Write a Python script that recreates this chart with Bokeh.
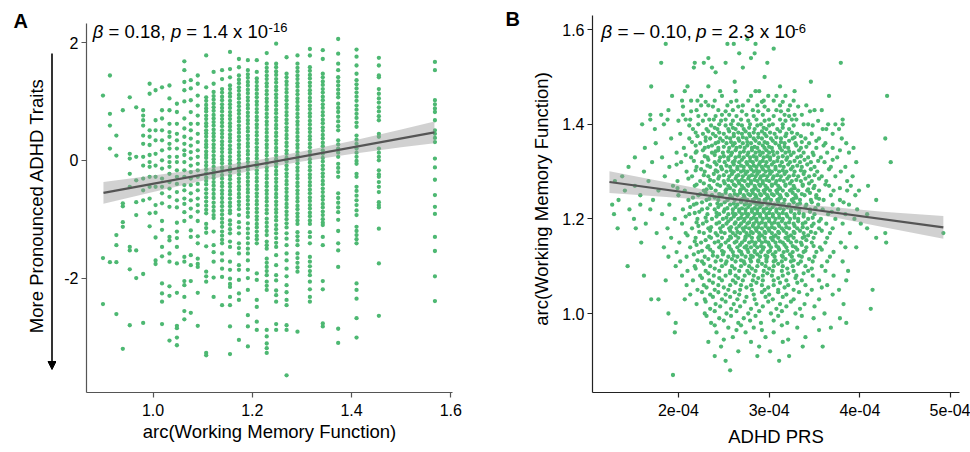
import math
from bokeh.plotting import figure
from bokeh.layouts import row
from bokeh.models import Range1d, FixedTicker, PrintfTickFormatter, Label, Arrow, NormalHead
from bokeh.embed import file_html
from bokeh.resources import INLINE

FONT = "Liberation Sans"
GREEN = "#4DB872"

# ---------------- Panel A data: ADHD traits by working-memory level ----------------
wm_levels = [0.899, 0.913, 0.926, 0.939, 0.953, 0.966, 0.980, 0.993, 1.005, 1.018,
             1.033, 1.048, 1.063, 1.076, 1.090, 1.107, 1.122, 1.139, 1.155, 1.173,
             1.191, 1.209, 1.229, 1.248, 1.269, 1.291, 1.316, 1.342, 1.373, 1.410,
             1.455, 1.568]

adhd_by_level = [
    [1.10, -1.66, -2.44],
    [1.44, 0.79, 0.59, 0.20, -1.73],
    [0.42, 0.08, -1.27, -1.44, -1.73, -2.61],
    [0.85, -0.73, -0.78, -1.05, -1.13, -3.20],
    [1.07, 0.11, 0.03, -0.23, -0.45, -1.47, -1.53, -1.85, -2.80],
    [0.90, 0.06, -0.34, -0.71, -0.93, -1.53, -2.00],
    [0.85, 0.76, 0.68, 0.59, 0.42, 0.28, 0.06, -0.09, -0.31, -0.51, -0.68, -1.93, -2.76],
    [1.30, 1.13, 0.51, 0.40, 0.26, 0.09, -0.03, -0.11, -0.28, -0.45, -0.65, -0.90, -1.12],
    [1.19, 0.68, 0.51, 0.34, 0.11, -0.09, -0.28, -0.45, -0.76, -0.89, -1.31, -1.70, -1.76],
    [1.24, 0.85, 0.71, 0.51, 0.34, 0.17, 0.00, -0.14, -0.31, -0.45, -0.56, -0.73, -1.03, -1.18,
     -1.47, -1.63, -2.09, -2.26, -2.40, -2.78],
    [1.27, 1.05, 0.85, 0.62, 0.48, 0.40, 0.28, 0.20, 0.06, -0.03, -0.11, -0.23, -0.37, -0.48,
     -0.62, -0.79, -1.30, -1.36, -1.58, -1.72, -2.14, -2.30, -3.06],
    [0.96, 0.82, 0.62, 0.45, 0.34, 0.20, 0.06, -0.03, -0.17, -0.28, -0.40, -0.54, -0.68, -0.80,
     -1.06, -1.21, -1.32, -1.47, -1.75, -2.25, -2.81, -2.85, -3.01, -3.14],
    [1.68, 1.53, 1.33, 1.19, 1.00, 0.71, 0.54, 0.40, 0.28, 0.17, 0.09, -0.03, -0.17, -0.28,
     -0.42, -0.51, -0.65, -0.74, -0.88, -1.03, -1.64, -1.72, -2.05, -2.12, -2.32, -2.56, -2.70],
    [1.36, 1.22, 1.02, 0.82, 0.62, 0.51, 0.37, 0.25, 0.14, 0.03, -0.09, -0.20, -0.31, -0.42,
     -0.56, -0.68, -0.82, -0.96, -1.19, -1.30, -1.61, -1.78, -2.05, -2.59],
    [1.44, 1.30, 1.10, 0.93, 0.76, 0.62, 0.45, 0.31, 0.17, 0.06, -0.06, -0.17, -0.28, -0.40,
     -0.51, -0.65, -0.76, -0.87, -1.03, -1.29, -1.41, -1.67, -1.76, -1.81, -2.25, -2.81],
    [1.78, 1.24, 1.07, 1.01, 0.94, 0.88, 0.83, 0.76, 0.70, 0.63, 0.58, 0.51, 0.46, 0.40, 0.33,
     0.27, 0.22, 0.15, 0.09, 0.04, -0.03, -0.09, -0.15, -0.22, -0.29, -0.35, -0.41, -0.49,
     -0.56, -0.63, -0.70, -0.77, -0.84, -0.90, -1.08, -1.15, -1.23, -1.46, -1.89, -1.97,
     -2.06, -3.27, -3.31],
    [1.50, 1.30, 1.16, 1.09, 1.03, 0.96, 0.90, 0.84, 0.77, 0.71, 0.65, 0.59, 0.52, 0.46, 0.40,
     0.34, 0.27, 0.21, 0.15, 0.08, 0.02, -0.04, -0.11, -0.17, -0.24, -0.30, -0.37, -0.43,
     -0.50, -0.57, -0.64, -0.72, -0.79, -0.86, -0.93, -0.98, -1.21, -1.44, -1.56, -1.72,
     -1.99, -2.32],
    [1.53, 1.38, 1.21, 1.15, 1.08, 1.02, 0.95, 0.89, 0.83, 0.76, 0.70, 0.64, 0.58, 0.51, 0.45,
     0.39, 0.32, 0.26, 0.20, 0.14, 0.07, 0.01, -0.05, -0.12, -0.18, -0.25, -0.31, -0.38,
     -0.44, -0.51, -0.57, -0.64, -0.71, -0.78, -0.85, -0.92, -0.99, -1.06, -1.13, -1.21,
     -1.28, -1.35, -1.41, -1.58, -1.70, -1.84, -1.98, -2.46],
    [1.84, 1.55, 1.41, 1.27, 1.21, 1.14, 1.08, 1.01, 0.95, 0.89, 0.82, 0.76, 0.70, 0.63, 0.57,
     0.51, 0.44, 0.38, 0.32, 0.25, 0.19, 0.13, 0.06, 0.00, -0.06, -0.13, -0.19, -0.26, -0.32,
     -0.39, -0.45, -0.52, -0.58, -0.65, -0.72, -0.78, -0.85, -0.90, -1.02, -1.09, -1.17,
     -1.24, -1.38, -1.47, -1.72, -1.86, -2.01, -2.10, -2.15, -2.32, -2.46, -2.82, -3.29],
    [1.72, 1.58, 1.44, 1.37, 1.31, 1.24, 1.18, 1.11, 1.05, 0.98, 0.92, 0.85, 0.79, 0.72, 0.66,
     0.59, 0.53, 0.47, 0.40, 0.34, 0.27, 0.21, 0.14, 0.08, 0.02, -0.05, -0.11, -0.18, -0.24,
     -0.31, -0.37, -0.44, -0.50, -0.57, -0.63, -0.70, -0.76, -0.83, -0.93, -1.05, -1.14,
     -1.24, -1.41, -1.49, -1.58, -1.78, -1.86, -2.03, -2.26, -2.37, -3.05],
    [1.70, 1.53, 1.46, 1.40, 1.33, 1.27, 1.20, 1.14, 1.07, 1.01, 0.94, 0.88, 0.81, 0.75, 0.68,
     0.62, 0.55, 0.49, 0.42, 0.36, 0.29, 0.23, 0.16, 0.10, 0.03, -0.03, -0.10, -0.16, -0.23,
     -0.29, -0.36, -0.42, -0.49, -0.55, -0.62, -0.68, -0.75, -0.82, -0.89, -0.96, -1.07,
     -1.16, -1.24, -1.32, -1.41, -1.50, -1.58, -1.70, -1.86, -2.00, -2.20, -2.63, -2.82, -3.16],
    [1.70, 1.50, 1.39, 1.33, 1.26, 1.20, 1.13, 1.07, 1.00, 0.94, 0.87, 0.81, 0.74, 0.68, 0.61,
     0.55, 0.48, 0.42, 0.35, 0.29, 0.22, 0.16, 0.09, 0.03, -0.04, -0.10, -0.17, -0.23, -0.30,
     -0.36, -0.43, -0.49, -0.56, -0.62, -0.69, -0.75, -0.82, -0.88, -0.95, -1.01, -1.08,
     -1.14, -1.21, -1.28, -1.34, -1.41, -1.92, -2.03, -2.37, -2.49, -2.74, -2.88],
    [1.82, 1.64, 1.57, 1.51, 1.44, 1.38, 1.31, 1.25, 1.18, 1.12, 1.05, 0.99, 0.92, 0.86, 0.79,
     0.73, 0.66, 0.60, 0.53, 0.47, 0.40, 0.34, 0.27, 0.21, 0.14, 0.08, 0.01, -0.05, -0.12,
     -0.18, -0.25, -0.31, -0.38, -0.44, -0.51, -0.57, -0.64, -0.70, -0.77, -0.84, -0.90,
     -0.99, -1.06, -1.13, -1.20, -1.27, -1.38, -1.44, -1.50, -1.67, -1.74, -1.81, -1.88,
     -1.95, -2.06, -2.13, -2.20, -2.88, -2.99, -3.11, -3.19, -3.27],
    [1.98, 1.64, 1.58, 1.51, 1.45, 1.38, 1.32, 1.25, 1.19, 1.12, 1.06, 0.99, 0.93, 0.86, 0.80,
     0.73, 0.67, 0.60, 0.54, 0.47, 0.41, 0.34, 0.28, 0.21, 0.15, 0.08, 0.02, -0.05, -0.11,
     -0.18, -0.24, -0.31, -0.37, -0.44, -0.50, -0.57, -0.63, -0.70, -0.76, -0.83, -0.89,
     -0.96, -1.02, -1.10, -1.17, -1.24, -1.32, -1.40, -1.47, -1.61, -1.78, -1.95, -2.04,
     -2.21, -2.29, -2.40, -2.78, -2.88],
    [1.75, 1.47, 1.41, 1.34, 1.28, 1.21, 1.15, 1.08, 1.02, 0.95, 0.89, 0.82, 0.76, 0.69, 0.63,
     0.56, 0.50, 0.43, 0.37, 0.30, 0.24, 0.17, 0.11, 0.04, -0.02, -0.09, -0.15, -0.22, -0.28,
     -0.35, -0.41, -0.48, -0.54, -0.61, -0.67, -0.74, -0.80, -0.87, -0.93, -1.00, -1.07,
     -1.14, -1.24, -1.33, -1.44, -1.58, -1.70, -1.84, -1.97, -2.12, -2.24, -2.37, -2.46,
     -2.80, -2.88, -3.65],
    [1.78, 1.64, 1.57, 1.51, 1.44, 1.38, 1.31, 1.25, 1.18, 1.12, 1.05, 0.99, 0.92, 0.86, 0.79,
     0.73, 0.66, 0.60, 0.53, 0.47, 0.40, 0.34, 0.27, 0.21, 0.14, 0.08, 0.01, -0.05, -0.12,
     -0.18, -0.25, -0.31, -0.38, -0.44, -0.51, -0.57, -0.64, -0.70, -0.77, -0.83, -0.90,
     -0.96, -1.02, -1.08, -1.22, -1.29, -1.36, -1.44, -1.58, -1.66, -1.74, -1.82, -1.89, -2.91],
    [1.89, 1.78, 1.58, 1.52, 1.45, 1.39, 1.32, 1.26, 1.19, 1.13, 1.06, 1.00, 0.93, 0.87, 0.80,
     0.74, 0.67, 0.61, 0.54, 0.48, 0.41, 0.35, 0.28, 0.22, 0.15, 0.09, 0.02, -0.04, -0.11,
     -0.17, -0.24, -0.30, -0.37, -0.43, -0.50, -0.56, -0.63, -0.69, -0.76, -0.82, -0.89,
     -0.95, -1.02, -1.08, -1.22, -1.30, -1.41, -1.64, -1.72, -1.80, -1.88, -1.95, -2.06,
     -2.19, -2.32, -2.40],
    [1.87, 1.72, 1.47, 1.41, 1.34, 1.28, 1.21, 1.15, 1.08, 1.02, 0.95, 0.89, 0.82, 0.76, 0.69,
     0.63, 0.56, 0.50, 0.43, 0.37, 0.30, 0.24, 0.17, 0.11, 0.04, -0.02, -0.09, -0.15, -0.22,
     -0.28, -0.35, -0.41, -0.48, -0.54, -0.61, -0.67, -0.74, -0.80, -0.87, -0.93, -1.00,
     -1.06, -1.10, -1.30, -1.44, -2.05, -2.19, -2.77, -2.82],
    [2.06, 1.81, 1.64, 1.53, 1.41, 1.34, 1.27, 1.20, 1.13, 1.07, 0.96, 0.89, 0.82, 0.74, 0.66,
     0.58, 0.51, 0.34, 0.27, 0.20, 0.13, 0.06, -0.06, -0.13, -0.20, -0.28, -0.56, -0.64,
     -0.72, -0.80, -0.88, -1.01, -1.20, -1.41, -1.53, -1.81, -2.86, -3.10],
    [1.88, 1.76, 1.61, 1.47, 1.36, 1.29, 1.22, 1.15, 1.08, 1.01, 0.93, 0.86, 0.79, 0.72, 0.64,
     0.57, 0.42, 0.35, 0.28, 0.20, 0.13, 0.06, -0.01, -0.06, -0.23, -0.28, -0.45, -0.52,
     -0.60, -0.68, -0.76, -0.85, -0.93, -1.13, -1.20, -1.27, -1.34, -1.41, -2.09, -2.20,
     -2.35, -2.68, -3.01],
    [1.74, 1.61, 1.44, 1.41, 1.21, 1.13, 1.05, 0.98, 0.90, 0.83, 0.75, 0.68, 0.45, 0.40, 0.20,
     0.13, 0.06, 0.00, -0.17, -0.24, -0.28, -0.37, -0.45, -0.54, -0.71, -0.76, -0.80, -1.16,
     -1.75, -2.64],
    [1.67, 1.53, 1.02, 0.95, 0.88, 0.82, 0.68, 0.51, 0.45, 0.38, 0.31, 0.03, -0.12, -0.33,
     -0.59, -0.79, -0.91, -1.30, -1.54, -1.97, -2.39],
]

fitA_x = [0.900, 1.567]
fitA_y = [-0.553, 0.475]
bandA_x = [0.90, 1.00, 1.10, 1.20, 1.30, 1.40, 1.50, 1.567]
bandA_lo = [-0.738, -0.539, -0.345, -0.171, -0.022, 0.108, 0.222, 0.290]
bandA_hi = [-0.368, -0.259, -0.145, -0.011, 0.148, 0.328, 0.522, 0.660]
xticksA = [1.0, 1.2, 1.4, 1.6]
yticksA = [-2, 0, 2]

# ---------------- Panel B data: working memory (rows) vs ADHD PRS (units of 1e-4) ----------------
wm_rows = [1.58, 1.57, 1.56, 1.55, 1.54, 1.53, 1.52, 1.51, 1.50, 1.49, 1.48, 1.47, 1.46, 1.45,
           1.44, 1.43, 1.42, 1.41, 1.40, 1.39, 1.385, 1.38, 1.375, 1.37, 1.365, 1.36, 1.355,
           1.35, 1.345, 1.34, 1.335, 1.33, 1.325, 1.32, 1.315, 1.31, 1.305, 1.30, 1.295, 1.29,
           1.285, 1.28, 1.275, 1.27, 1.265, 1.26, 1.255, 1.25, 1.245, 1.24, 1.235, 1.23, 1.225,
           1.22, 1.215, 1.21, 1.205, 1.20, 1.195, 1.19, 1.185, 1.18, 1.175, 1.17, 1.165, 1.16,
           1.155, 1.15, 1.145, 1.14, 1.135, 1.13, 1.125, 1.12, 1.115, 1.11, 1.10, 1.09, 1.08,
           1.07, 1.06, 1.05, 1.04, 1.03, 1.02, 1.01, 1.00, 0.99, 0.98, 0.97, 0.96, 0.95, 0.94,
           0.93, 0.92, 0.91, 0.90, 0.88, 0.87]

prs_rows = [
    [2.76],
    [1.86, 2.54, 2.61, 2.85],
    [3.05],
    [2.67, 2.84],
    [2.33, 2.80],
    [1.81, 2.18, 2.28, 2.52, 2.98, 3.79],
    [2.17, 2.37, 2.71],
    [2.41],
    [2.95],
    [2.62, 3.46],
    [1.70, 2.10, 2.33, 3.12],
    [2.07, 2.46, 2.63, 2.85, 2.89, 3.28],
    [1.93, 2.25, 2.48, 2.80, 2.99, 3.08, 3.18, 3.66, 4.30],
    [2.04, 2.14, 2.21, 2.40, 2.64, 2.77, 2.94, 3.05, 3.27],
    [2.25, 2.33, 2.54, 2.71, 2.87, 3.12, 3.23, 3.41],
    [1.89, 2.20, 2.44, 2.60, 2.82, 2.99, 3.08, 3.21, 3.50, 3.58],
    [1.69, 1.81, 2.05, 2.30, 2.48, 2.56, 2.75, 2.93, 3.17, 3.28, 3.36],
    [1.69, 1.88, 2.08, 2.13, 2.34, 2.39, 2.52, 2.69, 2.86, 3.00, 3.12, 3.25, 3.30, 3.81],
    [1.60, 1.84, 2.22, 2.45, 2.58, 2.66, 2.79, 2.91, 3.04, 3.15, 3.38, 3.43, 3.65, 3.73, 3.81],
    [1.74, 2.16, 2.31, 2.43, 2.55, 2.63, 2.72, 2.84, 2.97, 3.09, 3.22, 3.59, 3.63, 3.77],
    [2.33, 2.56, 2.74, 2.92, 3.12],
    [2.02, 2.27, 2.38, 2.50, 2.61, 2.70, 2.78, 2.88, 2.95, 3.06, 3.19, 3.31, 3.47, 3.70],
    [2.21, 2.41, 2.61, 2.79, 2.97, 3.18, 3.35],
    [1.92, 2.12, 2.35, 2.46, 2.57, 2.66, 2.75, 2.83, 2.92, 3.02, 3.13, 3.26, 3.40, 3.55, 3.80, 4.28],
    [2.30, 2.49, 2.67, 2.85, 3.04, 3.22, 3.52],
    [1.75, 2.24, 2.41, 2.53, 2.62, 2.71, 2.80, 2.89, 2.98, 3.07, 3.17, 3.29, 3.44, 3.62, 3.85],
    [2.19, 2.37, 2.60, 2.76, 2.93, 3.11, 3.30, 3.60],
    [1.63, 2.06, 2.29, 2.44, 2.56, 2.64, 2.73, 2.81, 2.87, 2.95, 3.03, 3.12, 3.21, 3.35, 3.52,
     3.70, 3.93],
    [2.27, 2.44, 2.63, 2.81, 2.97, 3.14, 3.33, 3.78],
    [1.98, 2.19, 2.37, 2.49, 2.59, 2.68, 2.77, 2.85, 2.93, 3.00, 3.09, 3.18, 3.27, 3.38, 3.48,
     3.64, 3.88],
    [2.08, 2.40, 2.58, 2.76, 2.90, 3.05, 3.24, 3.49],
    [1.52, 1.82, 2.14, 2.32, 2.46, 2.55, 2.63, 2.72, 2.79, 2.86, 2.94, 3.01, 3.10, 3.20, 3.31,
     3.43, 3.57, 3.75],
    [2.33, 2.55, 2.70, 2.86, 3.01, 3.19, 3.39, 3.70],
    [1.71, 2.03, 2.26, 2.40, 2.51, 2.60, 2.67, 2.75, 2.82, 2.90, 2.97, 3.05, 3.14, 3.23, 3.34,
     3.46, 3.61, 3.96, 4.34],
    [1.98, 2.42, 2.61, 2.76, 2.89, 3.03, 3.21, 3.42],
    [1.45, 1.90, 2.20, 2.35, 2.47, 2.57, 2.65, 2.72, 2.79, 2.86, 2.92, 2.99, 3.07, 3.16, 3.26,
     3.36, 3.50, 3.68, 3.84],
    [2.25, 2.48, 2.65, 2.80, 2.93, 3.07, 3.24, 3.46, 3.66],
    [1.62, 2.09, 2.29, 2.43, 2.53, 2.61, 2.69, 2.76, 2.83, 2.89, 2.96, 3.03, 3.11, 3.19, 3.28,
     3.39, 3.53, 3.79],
    [2.39, 2.59, 2.74, 2.87, 3.01, 3.17, 3.38],
    [1.38, 1.85, 2.15, 2.33, 2.45, 2.56, 2.64, 2.71, 2.78, 2.85, 2.91, 2.98, 3.05, 3.13, 3.22,
     3.32, 3.44, 3.58, 3.73, 3.92],
    [2.11, 2.44, 2.63, 2.77, 2.90, 3.04, 3.20, 3.40, 3.55],
    [1.30, 1.67, 1.99, 2.24, 2.39, 2.50, 2.59, 2.66, 2.73, 2.80, 2.87, 2.93, 3.00, 3.08, 3.16,
     3.25, 3.35, 3.47, 3.63, 3.86],
    [2.28, 2.51, 2.67, 2.80, 2.93, 3.07, 3.23, 3.44],
    [1.52, 1.94, 2.18, 2.34, 2.46, 2.55, 2.63, 2.70, 2.77, 2.84, 2.90, 2.96, 3.03, 3.10, 3.18,
     3.27, 3.37, 3.50, 3.66, 3.90, 4.09],
    [1.99, 2.36, 2.57, 2.72, 2.85, 2.98, 3.12, 3.28, 3.49, 3.78],
    [1.41, 1.78, 2.07, 2.28, 2.41, 2.52, 2.61, 2.68, 2.75, 2.81, 2.88, 2.94, 3.01, 3.08, 3.15,
     3.23, 3.32, 3.42, 3.55, 3.71, 3.86, 3.99],
    [2.30, 2.52, 2.68, 2.82, 2.95, 3.09, 3.26, 3.45],
    [1.58, 2.00, 2.22, 2.37, 2.48, 2.57, 2.65, 2.72, 2.79, 2.85, 2.91, 2.98, 3.05, 3.12, 3.20,
     3.29, 3.39, 3.52, 3.68, 3.95],
    [2.16, 2.40, 2.59, 2.73, 2.86, 2.99, 3.13, 3.30, 3.52],
    [1.34, 1.72, 2.11, 2.31, 2.44, 2.54, 2.62, 2.69, 2.76, 2.82, 2.89, 2.95, 3.02, 3.09, 3.17,
     3.25, 3.34, 3.46, 3.60, 3.78, 4.18],
    [2.26, 2.51, 2.69, 2.83, 2.96, 3.10, 3.27, 3.47, 3.82],
    [1.27, 1.58, 1.90, 2.17, 2.35, 2.47, 2.57, 2.65, 2.73, 2.79, 2.86, 2.92, 2.99, 3.06, 3.14,
     3.22, 3.31, 3.41, 3.54, 3.70, 3.88],
    [2.13, 2.44, 2.63, 2.77, 2.90, 3.04, 3.20, 3.40],
    [1.46, 1.69, 2.05, 2.26, 2.40, 2.51, 2.60, 2.67, 2.74, 2.81, 2.87, 2.94, 3.01, 3.08, 3.16,
     3.24, 3.33, 3.45, 3.59, 3.76, 3.97],
    [2.23, 2.50, 2.67, 2.81, 2.94, 3.08, 3.24, 3.45, 3.69],
    [1.29, 1.82, 2.12, 2.32, 2.45, 2.55, 2.63, 2.70, 2.77, 2.84, 2.90, 2.97, 3.04, 3.11, 3.19,
     3.28, 3.38, 3.50, 3.65, 3.84, 4.08],
    [2.08, 2.42, 2.61, 2.76, 2.90, 3.04, 3.20, 3.38],
    [1.51, 1.96, 2.21, 2.37, 2.49, 2.58, 2.66, 2.73, 2.80, 2.86, 2.93, 3.00, 3.07, 3.15, 3.23,
     3.32, 3.43, 3.57, 3.73, 3.94],
    [2.31, 2.55, 2.72, 2.86, 3.00, 3.14, 3.32, 3.55],
    [1.64, 2.04, 2.27, 2.42, 2.53, 2.62, 2.69, 2.76, 2.83, 2.89, 2.96, 3.03, 3.10, 3.18, 3.27,
     3.37, 3.49, 3.63, 3.81, 4.01],
    [2.22, 2.49, 2.67, 2.82, 2.96, 3.11, 3.28, 3.47],
    [1.33, 1.53, 1.88, 2.15, 2.33, 2.46, 2.56, 2.64, 2.71, 2.78, 2.85, 2.92, 2.99, 3.06, 3.14,
     3.22, 3.31, 3.42, 3.55, 3.70, 4.08],
    [2.35, 2.57, 2.72, 2.86, 3.00, 3.16, 3.34, 3.58],
    [1.76, 2.08, 2.28, 2.41, 2.51, 2.60, 2.68, 2.75, 2.82, 2.89, 2.96, 3.03, 3.11, 3.19, 3.28,
     3.38, 3.51, 3.67, 3.89, 4.28, 4.92],
    [2.10, 2.43, 2.63, 2.78, 2.92, 3.07, 3.24, 3.43],
    [1.92, 2.19, 2.36, 2.48, 2.58, 2.66, 2.74, 2.81, 2.88, 2.95, 3.02, 3.10, 3.18, 3.27, 3.37,
     3.49, 3.64, 4.18],
    [2.30, 2.55, 2.73, 2.89, 3.04, 3.21, 3.41],
    [1.59, 2.01, 2.25, 2.40, 2.52, 2.62, 2.70, 2.78, 2.85, 2.92, 2.99, 3.07, 3.15, 3.24, 3.35,
     3.47, 3.62, 3.79, 4.29],
    [2.20, 2.47, 2.68, 2.84, 3.00, 3.17, 3.36],
    [1.84, 2.13, 2.32, 2.45, 2.56, 2.65, 2.73, 2.80, 2.87, 2.94, 3.02, 3.10, 3.19, 3.29, 3.41,
     3.56, 3.84, 3.96],
    [2.35, 2.58, 2.76, 2.93, 3.11, 3.31, 3.58],
    [1.98, 2.22, 2.38, 2.50, 2.60, 2.69, 2.77, 2.84, 2.91, 2.99, 3.07, 3.16, 3.26, 3.38, 3.52, 3.71],
    [2.17, 2.49, 2.70, 2.87, 3.04, 3.23],
    [1.89, 2.09, 2.29, 2.43, 2.55, 2.65, 2.74, 2.82, 2.90, 2.98, 3.06, 3.15, 3.25, 3.36, 3.50, 3.67],
    [2.33, 2.59, 2.79, 2.97, 3.18, 3.44],
    [2.02, 2.26, 2.41, 2.53, 2.63, 2.72, 2.80, 2.88, 2.97, 3.05, 3.14, 3.24, 3.35, 3.48, 3.64, 3.81],
    [1.44, 1.97, 2.18, 2.35, 2.48, 2.59, 2.69, 2.78, 2.87, 2.96, 3.05, 3.15, 3.26, 3.40, 3.58],
    [2.10, 2.30, 2.45, 2.57, 2.67, 2.76, 2.85, 2.94, 3.04, 3.14, 3.27, 3.43, 3.62, 3.87],
    [1.62, 2.04, 2.24, 2.39, 2.52, 2.63, 2.73, 2.83, 2.93, 3.03, 3.15, 3.30, 3.48, 3.71],
    [1.86, 2.16, 2.34, 2.48, 2.60, 2.71, 2.82, 2.93, 3.05, 3.19, 3.36, 3.55, 3.85],
    [2.09, 2.28, 2.44, 2.57, 2.69, 2.80, 2.92, 3.05, 3.21, 3.40, 3.64],
    [2.21, 2.40, 2.55, 2.68, 2.81, 2.95, 3.10, 3.27, 3.47, 3.77, 4.14],
    [2.13, 2.35, 2.52, 2.67, 2.83, 3.00, 3.19, 3.42, 3.70],
    [1.70, 1.78, 2.07, 2.29, 2.48, 2.65, 2.84, 3.04, 3.27, 3.55],
    [2.20, 2.41, 2.61, 2.86, 3.12, 3.39, 3.82],
    [2.35, 2.58, 2.80, 3.08, 3.34, 4.12],
    [1.89, 2.29, 2.53, 2.77, 3.02, 3.29, 3.61],
    [2.45, 2.72, 3.49, 3.78],
    [1.97, 2.36, 2.66, 2.91, 3.20, 3.85],
    [2.55, 2.83, 3.31, 3.68],
    [1.96, 2.42, 2.74, 3.05],
    [2.60, 2.96, 3.40],
    [2.33, 2.80, 3.15],
    [2.47, 2.89, 3.37, 3.59],
    [2.66, 3.01],
    [2.40, 2.87, 3.22],
    [2.52, 3.11],
    [2.57],
    [1.94],
]

# further rows read between the ones above (dense core of the cloud)
wm_rows_core = [1.4475, 1.4375, 1.4275, 1.4175, 1.4075, 1.3975, 1.3925, 1.3825, 1.3725, 1.3625,
                1.3525, 1.3425, 1.3325, 1.3225, 1.3125, 1.3025, 1.2925, 1.2825, 1.2725, 1.2625,
                1.2525, 1.2425, 1.2325, 1.2225, 1.2125, 1.2025, 1.1925, 1.1825, 1.1725, 1.1625,
                1.1525, 1.1425, 1.1325, 1.1225, 1.1125, 1.105, 1.095, 1.085, 1.075, 1.065,
                1.055, 1.045, 1.035, 1.025, 1.015, 1.005, 0.995, 0.985, 0.975, 0.965, 0.945]
prs_rows_core = [
    [2.30, 2.58, 2.92, 3.15],
    [2.05, 2.38, 2.66, 2.95, 3.32],
    [2.14, 2.52, 2.70, 2.88, 3.13, 3.45],
    [2.22, 2.41, 2.64, 2.83, 3.05, 3.22],
    [2.00, 2.27, 2.47, 2.60, 2.77, 2.95, 3.18, 3.54],
    [2.12, 2.36, 2.52, 2.70, 2.87, 3.00, 3.27, 3.48],
    [2.40, 2.60, 2.78, 2.94, 3.15],
    [2.19, 2.45, 2.66, 2.83, 3.01, 3.25],
    [2.30, 2.53, 2.71, 2.88, 3.08, 3.28],
    [2.15, 2.44, 2.58, 2.76, 2.95, 3.13, 3.36],
    [2.33, 2.50, 2.68, 2.84, 3.00, 3.17, 3.41],
    [2.20, 2.41, 2.55, 2.72, 2.89, 3.04, 3.22],
    [2.29, 2.50, 2.67, 2.83, 2.98, 3.15, 3.35],
    [2.17, 2.45, 2.62, 2.79, 2.93, 3.09, 3.28, 3.54],
    [2.32, 2.53, 2.69, 2.83, 2.96, 3.12, 3.31],
    [2.19, 2.41, 2.58, 2.72, 2.86, 3.00, 3.15, 3.35],
    [2.28, 2.50, 2.66, 2.81, 2.94, 3.09, 3.27, 3.50],
    [2.35, 2.55, 2.70, 2.84, 2.97, 3.12, 3.30],
    [2.20, 2.43, 2.61, 2.76, 2.89, 3.03, 3.18, 3.37, 3.62],
    [2.31, 2.53, 2.69, 2.83, 2.96, 3.10, 3.25, 3.43],
    [2.24, 2.45, 2.62, 2.77, 2.90, 3.03, 3.19, 3.36],
    [2.34, 2.55, 2.71, 2.84, 2.97, 3.11, 3.27, 3.55],
    [2.20, 2.43, 2.61, 2.75, 2.88, 3.01, 3.16, 3.34],
    [2.32, 2.54, 2.70, 2.84, 2.97, 3.12, 3.29, 3.51],
    [2.18, 2.42, 2.60, 2.74, 2.87, 3.00, 3.15, 3.33],
    [2.30, 2.53, 2.69, 2.83, 2.97, 3.11, 3.28, 3.48],
    [2.20, 2.45, 2.63, 2.78, 2.92, 3.06, 3.22, 3.40],
    [2.36, 2.58, 2.74, 2.88, 3.03, 3.19, 3.37],
    [2.23, 2.47, 2.65, 2.80, 2.95, 3.10, 3.27, 3.46],
    [2.34, 2.57, 2.74, 2.89, 3.05, 3.21, 3.39],
    [2.18, 2.44, 2.64, 2.81, 2.96, 3.12, 3.30],
    [2.33, 2.56, 2.75, 2.91, 3.08, 3.26, 3.49],
    [2.26, 2.48, 2.67, 2.84, 3.01, 3.20, 3.40],
    [2.38, 2.61, 2.80, 2.96, 3.14, 3.33],
    [2.21, 2.47, 2.69, 2.88, 3.07, 3.27],
    [2.28, 2.52, 2.73, 2.92, 3.10, 3.32],
    [2.19, 2.40, 2.62, 2.81, 3.00, 3.20, 3.47],
    [2.33, 2.57, 2.78, 2.98, 3.21, 3.38],
    [2.26, 2.45, 2.66, 2.88, 3.10, 3.29],
    [2.38, 2.63, 2.86, 3.12, 3.31],
    [2.31, 2.50, 2.75, 2.99, 3.17, 3.58],
    [2.26, 2.44, 2.62, 2.92, 3.10, 3.33],
    [2.38, 2.57, 2.75, 2.96, 3.15],
    [2.30, 2.52, 2.73, 2.99, 3.24],
    [2.46, 2.68, 2.93, 3.19, 3.50],
    [2.40, 2.64, 2.89, 3.14],
    [2.31, 2.58, 2.85, 3.10, 3.36],
    [2.50, 2.79, 3.05],
    [2.40, 2.69, 3.14],
    [2.64, 2.92, 3.55],
    [2.50, 3.21],
]

fitB_x = [1.24, 4.92]
fitB_y = [1.278, 1.182]
bandB_x = [1.24, 1.75, 2.25, 2.75, 3.00, 3.25, 3.75, 4.25, 4.92]
bandB_lo = [1.255, 1.248, 1.241, 1.231, 1.225, 1.218, 1.202, 1.183, 1.158]
bandB_hi = [1.301, 1.282, 1.263, 1.246, 1.239, 1.233, 1.224, 1.215, 1.206]
xticksB = [2, 3, 4, 5]
xtick_labelsB = ["2e-04", "3e-04", "4e-04", "5e-04"]
yticksB = [1.0, 1.2, 1.4, 1.6]

assert len(wm_rows) == len(prs_rows)
assert len(wm_rows_core) == len(prs_rows_core)
assert len(wm_levels) == len(adhd_by_level)

# flatten
xa, ya = [], []
for lvl, vals in zip(wm_levels, adhd_by_level):
    xa += [lvl] * len(vals)
    ya += vals
xb, yb = [], []
for yv, xs in zip(wm_rows + wm_rows_core, prs_rows + prs_rows_core):
    xb += xs
    yb += [yv] * len(xs)

# all plot frames in the row share top=5px, bottom=392px
TOP, BOTTOM = 5, 60


def style(p, line_color):
    p.outline_line_color = None
    p.xgrid.visible = False
    p.ygrid.visible = False
    p.background_fill_color = "white"
    p.border_fill_color = "white"
    for ax in (p.xaxis[0], p.yaxis[0]):
        ax.axis_line_color = line_color
        ax.axis_line_width = 1.2
        ax.major_tick_line_color = line_color
        ax.major_tick_line_width = 1.2
        ax.major_tick_in = 0
        ax.major_tick_out = 5
        ax.minor_tick_line_color = None
        ax.major_label_text_font = FONT
        ax.major_label_text_font_size = "16px"
        ax.major_label_text_color = "black"
        ax.axis_label_text_font = FONT
        ax.axis_label_text_font_size = "18.5px"
        ax.axis_label_text_font_style = "normal"
        ax.axis_label_text_color = "black"
    p.xaxis.major_label_standoff = 6
    p.yaxis.major_label_standoff = 3


def add_text(p, x, y, text, size="18.5px", fstyle="normal", angle=0.0, align="left"):
    p.add_layout(Label(x=x, y=y, text=text, text_font=FONT, text_font_size=size,
                       text_font_style=fstyle, text_color="black", angle=angle,
                       text_baseline="middle", text_align=align))


def helper(width):
    # a plain drawing area whose coordinates are page pixels (y down)
    h = figure(width=width, height=452, x_range=Range1d(0, width), y_range=Range1d(392, 5),
               x_axis_type=None, y_axis_type=None, output_backend="svg", toolbar_location=None,
               min_border_left=0, min_border_right=0, min_border_top=TOP, min_border_bottom=BOTTOM)
    h.outline_line_color = None
    h.background_fill_color = "white"
    h.border_fill_color = "white"
    return h


# ---------------- left margin of panel A: tag, axis title, arrow ----------------
hA = helper(56)
add_text(hA, 13, 20, "A", size="20px", fstyle="bold")
add_text(hA, 35.5, 205, "More Pronounced ADHD Traits", size="18.5px", angle=math.pi / 2, align="center")
hA.add_layout(Arrow(end=NormalHead(size=8, fill_color="black", line_color="black"),
                    x_start=51.5, y_start=53, x_end=51.5, y_end=369,
                    line_width=1.6, line_color="black"))

# ---------------- Panel A figure ----------------
pA = figure(width=432, height=452, x_range=Range1d(0.8658, 1.6034), y_range=Range1d(-3.942, 2.6285),
            output_backend="svg", toolbar_location=None,
            min_border_left=30, min_border_right=36, min_border_top=TOP, min_border_bottom=BOTTOM)
pA.scatter(xa, ya, size=4.3, fill_color=GREEN, line_color=None)
pA.varea(x=bandA_x, y1=bandA_lo, y2=bandA_hi, fill_color="#999999", fill_alpha=0.45)
pA.line(fitA_x, fitA_y, line_color="#555555", line_width=2.2)
style(pA, "#555555")
pA.xaxis.ticker = FixedTicker(ticks=xticksA)
pA.xaxis.formatter = PrintfTickFormatter(format="%.1f")
pA.yaxis.ticker = FixedTicker(ticks=yticksA)
pA.yaxis.formatter = PrintfTickFormatter(format="%d")
pA.yaxis.bounds = (-3.942, 2.322)
pA.xaxis.axis_label = "arc(Working Memory Function)"
pA.xaxis.axis_label_standoff = 2

add_text(pA, 0.8785, 2.181, "β", fstyle="italic")
add_text(pA, 0.9103, 2.181, "= 0.18,")
add_text(pA, 1.0359, 2.181, "p", fstyle="italic")
add_text(pA, 1.0669, 2.181, "= 1.4 x 10")
add_text(pA, 1.2328, 2.249, "-16", size="13px")

# ---------------- left margin of panel B: tag ----------------
hB = helper(40)
add_text(hB, 17, 18, "B", size="20px", fstyle="bold")

# ---------------- Panel B figure ----------------
pB = figure(width=442, height=452, x_range=Range1d(1.053, 5.098), y_range=Range1d(0.833, 1.6512),
            output_backend="svg", toolbar_location=None,
            min_border_left=58, min_border_right=11, min_border_top=TOP, min_border_bottom=BOTTOM)
pB.scatter(xb, yb, size=4.3, fill_color=GREEN, line_color=None)
pB.varea(x=bandB_x, y1=bandB_lo, y2=bandB_hi, fill_color="#999999", fill_alpha=0.45)
pB.line(fitB_x, fitB_y, line_color="#555555", line_width=2.2)
style(pB, "#222222")
pB.xaxis.ticker = FixedTicker(ticks=xticksB)
pB.xaxis.major_label_overrides = dict(zip(xticksB, xtick_labelsB))
pB.yaxis.ticker = FixedTicker(ticks=yticksB)
pB.yaxis.formatter = PrintfTickFormatter(format="%.1f")
pB.yaxis.bounds = (0.833, 1.630)
pB.xaxis.axis_label = "ADHD PRS"
pB.xaxis.axis_label_standoff = 7
pB.yaxis.axis_label = "arc(Working Memory Function)"
pB.yaxis.axis_label_standoff = 7

add_text(pB, 1.1506, 1.5964, "β", size="19px", fstyle="italic")
add_text(pB, 1.3274, 1.5964, "= – 0.10,", size="19px")
add_text(pB, 2.1929, 1.5964, "p", size="19px", fstyle="italic")
add_text(pB, 2.3654, 1.5964, "= 2.3 x 10", size="19px")
add_text(pB, 3.2796, 1.6027, "-6", size="13px")

layout = row(hA, pA, hB, pB)
open("out.html", "w").write(file_html(layout, INLINE))
